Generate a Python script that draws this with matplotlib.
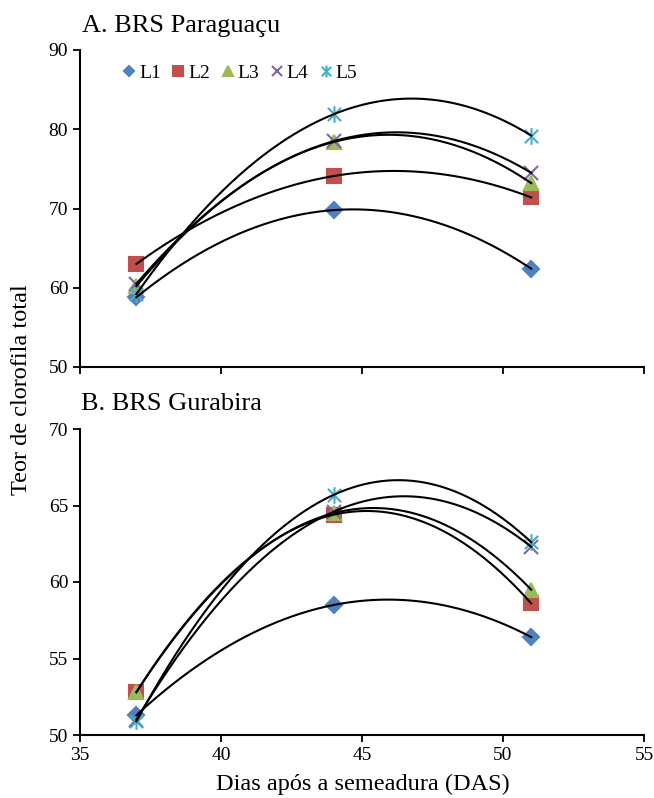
import numpy as np
import matplotlib
matplotlib.use("Agg")
import matplotlib.pyplot as plt
from matplotlib.path import Path

plt.rcParams['font.family'] = ['Liberation Serif', 'DejaVu Serif']

# dias apos a semeadura
das = [37, 44, 51]
linhas = ["L1", "L2", "L3", "L4", "L5"]

# A. BRS Paraguacu
parag_L1 = [58.8, 69.8, 62.4]
parag_L2 = [63.0, 74.1, 71.4]
parag_L3 = [60.2, 78.4, 73.2]
parag_L4 = [60.5, 78.5, 74.5]
parag_L5 = [59.2, 81.9, 79.2]

# B. BRS Gurabira
gura_L1 = [51.3, 58.5, 56.4]
gura_L2 = [52.8, 64.4, 58.6]
gura_L3 = [52.8, 64.5, 59.5]
gura_L4 = [51.0, 64.6, 62.3]
gura_L5 = [50.9, 65.7, 62.6]

# asterisco estilo Excel: x com barra vertical
asterisco = Path([(0, -1), (0, 1), (-0.8, -0.8), (0.8, 0.8), (-0.8, 0.8), (0.8, -0.8)],
                 [Path.MOVETO, Path.LINETO, Path.MOVETO, Path.LINETO, Path.MOVETO, Path.LINETO])

cores = ['#4F81BD', '#C0504D', '#9BBB59', '#8064A2', '#4BACC6']
marcadores = ['D', 's', '^', 'x', asterisco]
tamanhos = [8, 10, 10, 10, 12]

fig = plt.figure(figsize=(6.54, 7.98), dpi=100)
ax1 = fig.add_axes([80/654, 1-367/798, 564/654, 317/798])
ax2 = fig.add_axes([80/654, 1-735/798, 564/654, 306/798])

def desenha(ax, series):
    xs = np.linspace(das[0], das[-1], 200)
    for i, y in enumerate(series):
        ax.plot(das, y, linestyle='none', marker=marcadores[i], color=cores[i],
                markersize=tamanhos[i], markeredgewidth=1.5, label=linhas[i], zorder=2)
        c = np.polyfit(das, y, 2)
        ax.plot(xs, np.polyval(c, xs), color='black', lw=1.5, zorder=3)
    ax.set_xlim(35, 55)
    ax.set_xticks([35, 40, 45, 50, 55])
    for s in ['top', 'right']:
        ax.spines[s].set_visible(False)
    for s in ['left', 'bottom']:
        ax.spines[s].set_linewidth(1.5)
    ax.tick_params(direction='out', length=5, width=1.3, labelsize=14)

desenha(ax1, [parag_L1, parag_L2, parag_L3, parag_L4, parag_L5])
ax1.set_ylim(50, 90)
ax1.set_yticks([50, 60, 70, 80, 90])
ax1.set_xticklabels([])

desenha(ax2, [gura_L1, gura_L2, gura_L3, gura_L4, gura_L5])
ax2.set_ylim(50, 70)
ax2.set_yticks([50, 55, 60, 65, 70])

ax1.legend(loc='upper left', bbox_to_anchor=(0.06, 0.98), ncol=5, frameon=False,
           numpoints=1, markerscale=0.7, handlelength=0.8, handletextpad=0.1,
           columnspacing=0.5, fontsize=14, borderaxespad=0)

fig.text(82/654, 1-32/798, "A. BRS Paraguaçu", fontsize=19, va='baseline', ha='left')
fig.text(81/654, 1-410/798, "B. BRS Gurabira", fontsize=19, va='baseline', ha='left')
fig.text(22/654, 1-390/798, "Teor de clorofila total", fontsize=17.5, rotation=90,
         va='center', ha='center')
fig.text(363/654, 1-784/798, "Dias após a semeadura (DAS)", fontsize=17.5,
         va='center', ha='center')

fig.savefig("out.png", dpi=100)
